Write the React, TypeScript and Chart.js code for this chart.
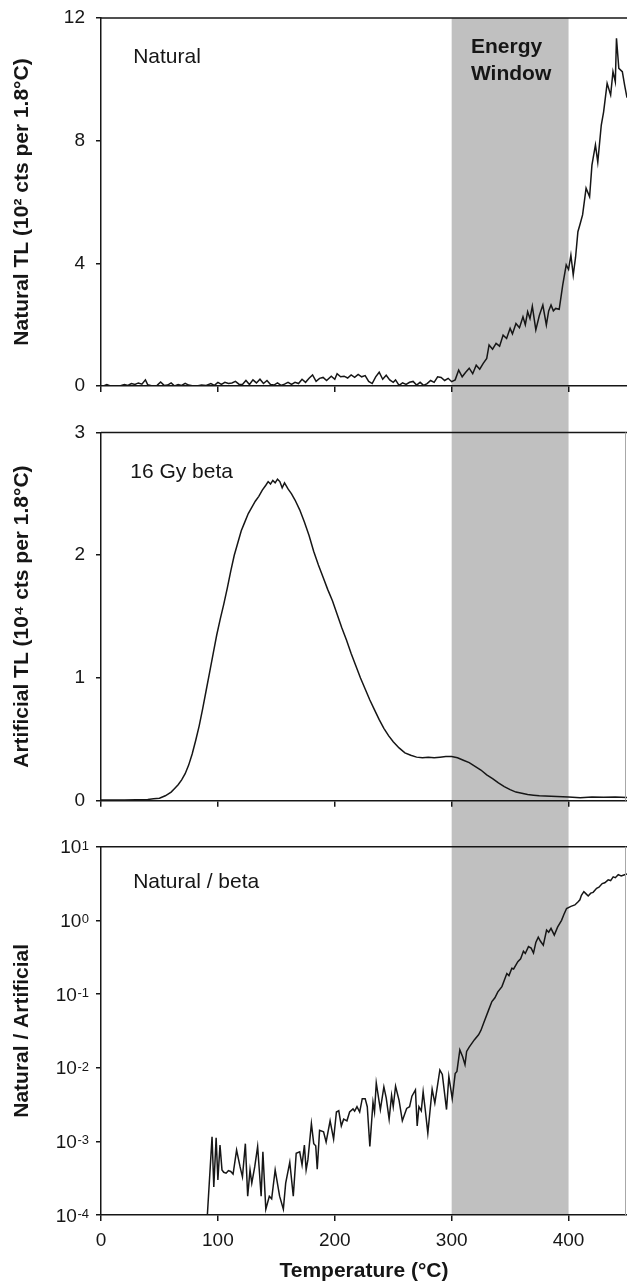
import React, { useEffect, useRef } from "react";
import { Chart, registerables } from "chart.js";

Chart.register(...registerables);

const FONT = '"Liberation Sans", Arial, Helvetica, sans-serif';
const INK = "#161616";
const BAND_COLOR = "#c0c0c0";

// ---- axes / labels ----
const X_MIN = 0;
const X_MAX = 450;
const X_STEP = 100;
const X_TITLE = "Temperature (°C)";
const ENERGY_WINDOW = [300, 400];
const WINDOW_LABEL = ["Energy", "Window"];

const Y_TITLES = [
  "Natural TL (10² cts per 1.8°C)",
  "Artificial TL (10⁴ cts per 1.8°C)",
  "Natural / Artificial",
];
const PANEL_LABELS = ["Natural", "16 Gy beta", "Natural / beta"];

const NAT_Y_MAX = 12;
const NAT_Y_STEP = 4;
const ART_Y_MAX = 3;
const ART_Y_STEP = 1;
const LOG_EXPONENTS = [-4, -3, -2, -1, 0, 1];
const LOG_BASE_LABEL = "10";
const LOG_EXP_LABELS = ["-4", "-3", "-2", "-1", "0", "1"];

// ---- Natural TL (10^2 counts per 1.8 °C) ----
const NAT_T = [
  0, 3, 5, 8, 12, 16, 20, 23, 26, 29,
  32, 35, 38, 40, 44, 48, 51, 54, 57, 60,
  63, 66, 69, 72, 75, 78, 82, 86, 90, 94,
  97, 100, 103, 106, 109, 112, 115, 118, 121, 124,
  127, 130, 133, 136, 139, 142, 145, 148, 151, 154,
  157, 160, 163, 166, 169, 172, 175, 178, 181, 184,
  187, 190, 193, 197, 200, 202, 205, 208, 211, 214,
  217, 220, 223, 226, 229, 232, 235, 238, 241, 244,
  247, 250, 252, 255, 258, 261, 264, 267, 270, 273,
  276, 279, 282, 285, 288, 291, 294, 297, 300, 303,
  306, 309, 312, 315, 318, 321, 324, 327, 330, 332,
  335, 338, 341, 344, 347, 350, 352, 355, 358, 361,
  363, 365, 367, 369, 372, 375, 378, 381, 383, 385,
  387, 389, 392, 395, 398, 400, 402, 404, 406, 408,
  410, 412, 415, 418, 420, 421, 423, 425, 428, 430,
  433, 436, 438, 440, 441, 443, 446, 448, 450,
];
const NAT_V = [
  0, 0.02, 0.05, 0, 0.01, 0, 0.05, 0.02, 0.08, 0.05,
  0.1, 0.06, 0.2, 0.04, 0, 0.02, 0.13, 0.02, 0.03, 0.1,
  0, 0.05, 0.02, 0.09, 0.03, 0.01, 0, 0.03, 0.02, 0.08,
  0.02, 0.12, 0.05, 0.12, 0.08, 0.1, 0.15, 0.06, 0.05, 0.18,
  0.05, 0.2, 0.1, 0.22, 0.08, 0.18, 0.05, 0.03, 0.1, 0.02,
  0.06, 0.12, 0.05, 0.12, 0.08, 0.22, 0.12, 0.25, 0.36, 0.15,
  0.25, 0.28, 0.18, 0.32, 0.22, 0.4, 0.3, 0.32, 0.26, 0.36,
  0.28, 0.38, 0.3, 0.34, 0.15, 0.08, 0.3, 0.45, 0.22, 0.35,
  0.2, 0.12, 0.2, 0.02, 0.1, 0.05, 0.12, 0.15, 0.03, 0.12,
  0.02, 0.08, 0.18, 0.12, 0.3, 0.28, 0.18, 0.25, 0.14, 0.2,
  0.52, 0.3, 0.45, 0.58, 0.4, 0.68, 0.55, 0.74, 0.9, 1.34,
  1.2, 1.39, 1.3, 1.66, 1.55, 1.88, 1.7, 2.04, 1.9, 2.26,
  2.0, 2.42, 2.2, 2.6, 1.83, 2.3, 2.64, 1.99, 2.45, 2.64,
  2.45, 2.53, 2.5, 3.29, 3.95, 3.8, 4.27, 3.62, 4.2, 5.03,
  5.3, 5.58, 6.45, 6.17, 7.2, 7.42, 7.86, 7.3, 8.51, 8.94,
  9.87, 9.49, 10.25, 9.92, 11.34, 10.36, 10.25, 9.8, 9.4,
];

// ---- Artificial TL, 16 Gy beta (10^4 counts per 1.8 °C) ----
const ART_T = [
  0, 10, 20, 30, 40, 45, 50, 55, 60,
  63, 66, 69, 72, 75, 78, 81, 84, 87, 90, 93, 96, 99, 102, 105, 108, 111, 114, 117, 120,
  123, 126, 129, 132, 135, 138, 141,
  143, 145, 147, 149, 151, 153, 155, 157,
  160, 163, 166,
  170, 174, 178, 182, 186, 190, 194, 198, 202, 206, 210, 214, 218, 222, 226, 230, 234, 238, 242, 246, 250,
  255, 260, 265, 270, 275, 280, 285, 290, 295, 300, 305, 310, 315, 320, 325, 330, 335, 340, 345, 350, 355, 360, 365, 370, 375, 380,
  390, 400, 410, 420, 430, 440, 450,
];
const ART_V = [
  0.005, 0.005, 0.006, 0.008, 0.01, 0.015, 0.02, 0.04, 0.07,
  0.1, 0.13, 0.17, 0.22, 0.29, 0.38, 0.49, 0.61, 0.75, 0.9, 1.05, 1.2, 1.35, 1.48, 1.6, 1.73, 1.87, 2.0, 2.1, 2.2,
  2.27, 2.34, 2.39, 2.44, 2.48, 2.53, 2.57,
  2.6, 2.58, 2.61, 2.59, 2.62, 2.6, 2.55, 2.59,
  2.54, 2.5, 2.45,
  2.37, 2.27, 2.16, 2.03, 1.92, 1.82, 1.72, 1.63, 1.52, 1.41, 1.31, 1.2, 1.1, 1.0, 0.91, 0.82, 0.74, 0.66, 0.59, 0.53, 0.48,
  0.43, 0.39, 0.37, 0.355, 0.35, 0.355, 0.35, 0.355, 0.36, 0.36, 0.35, 0.33, 0.31, 0.28, 0.25, 0.21, 0.18, 0.145, 0.115, 0.09, 0.07, 0.06, 0.05, 0.045, 0.04, 0.038,
  0.034, 0.03, 0.025, 0.03, 0.028, 0.03, 0.027,
];

// ---- Natural / Artificial ratio ----
const RATIO_T = [
  91, 95, 96.5, 98.5, 100, 101.8, 103.5, 105, 107, 109,
  111, 113, 116, 119, 121, 123.5, 125.5, 127.5, 129, 131.5,
  134, 137, 138.5, 141, 144, 146, 149, 152.8, 156, 158,
  161.5, 164.5, 167, 170, 172, 174, 175.5, 177, 180, 182,
  183.7, 185, 187, 190.4, 192.6, 196, 199, 201.4, 203.4, 205.6,
  207.6, 210.4, 212.7, 215.6, 217, 219, 221.3, 223.5, 226, 227.8,
  230, 232.7, 234, 235.5, 239, 242, 244, 246.5, 248.6, 250,
  252, 255, 257.8, 261.5, 264, 266, 269, 270.5, 272, 274,
  275.6, 277.5, 279.6, 283.3, 285.6, 289.9, 292, 295.6, 297.6, 300.5,
  303, 304.5, 307, 309.4, 311.4, 312.8, 315, 319.5, 323, 325,
  327.3, 331.5, 334.4, 337, 339.5, 343, 347.2, 349, 351.5, 353,
  356.6, 359, 361.4, 363, 365.7, 368, 370, 372, 374.1, 376,
  378.4, 381.2, 383, 385, 387.8, 390.6, 394, 396, 398.3, 402,
  405.4, 408, 409.7, 411, 413.1, 415, 416.8, 419, 421, 424,
  426, 428.8, 431, 433.9, 436, 438.2, 440, 442.5, 445, 448,
  450,
];
const RATIO_V = [
  1.0e-4, 1.15e-3, 2.4e-4, 1.12e-3, 3.0e-4, 8.9e-4, 4.1e-4, 3.8e-4, 3.7e-4, 4.0e-4,
  3.9e-4, 3.6e-4, 7.6e-4, 4.5e-4, 3.3e-4, 9.3e-4, 1.8e-4, 4.1e-4, 2.7e-4, 4.5e-4,
  8.5e-4, 1.8e-4, 7.2e-4, 1.2e-4, 1.8e-4, 1.66e-4, 4.1e-4, 1.8e-4, 1.2e-4, 2.7e-4,
  5.2e-4, 1.8e-4, 6.9e-4, 7.2e-4, 4.8e-4, 8.9e-4, 4.1e-4, 5.6e-4, 1.74e-3, 9.3e-4,
  8.7e-4, 4.2e-4, 1.41e-3, 1.35e-3, 9.8e-4, 1.9e-3, 1.07e-3, 2.5e-3, 2.6e-3, 1.62e-3,
  2.0e-3, 1.9e-3, 2.5e-3, 2.75e-3, 2.57e-3, 2.95e-3, 2.5e-3, 3.8e-3, 3.8e-3, 2.95e-3,
  8.5e-4, 3.4e-3, 2.5e-3, 6.2e-3, 2.7e-3, 5.5e-3, 3.9e-3, 2.0e-3, 4.2e-3, 2.95e-3,
  5.6e-3, 3.6e-3, 1.9e-3, 2.8e-3, 2.95e-3, 4.1e-3, 5.0e-3, 1.62e-3, 2.95e-3, 2.6e-3,
  4.7e-3, 2.6e-3, 1.29e-3, 5.1e-3, 3.3e-3, 9.3e-3, 8.1e-3, 2.7e-3, 7.6e-3, 3.8e-3,
  8.3e-3, 8.9e-3, 1.74e-2, 1.41e-2, 1.1e-2, 1.66e-2, 1.9e-2, 2.4e-2, 2.8e-2, 3.2e-2,
  4.0e-2, 6.0e-2, 7.9e-2, 8.9e-2, 0.107, 0.126, 0.19, 0.178, 0.224, 0.219,
  0.275, 0.3, 0.38, 0.355, 0.44, 0.42, 0.36, 0.5, 0.59, 0.52,
  0.46, 0.74, 0.69, 0.78, 0.63, 0.81, 1.0, 1.2, 1.45, 1.55,
  1.62, 1.78, 1.9, 2.19, 2.45, 2.29, 2.14, 2.34, 2.4, 2.72,
  2.82, 3.16, 3.24, 3.55, 3.47, 3.89, 3.8, 4.17, 4.0, 4.17,
  4.27,
];

// label anchor points (data coordinates: temperature, y-value)
const PANEL_LABEL_AT = [
  [27.5, 10.52],
  [25, 2.63],
  [27.5, 2.72],
];
const WINDOW_LABEL_AT = [
  [316.5, 10.87],
  [316.5, 9.98],
];

// ---- panel geometry ----
const W = 627;
const PANELS = [
  { top: 0, height: 400, padTop: 18, xHeight: 14 },
  { top: 400, height: 412, padTop: 32.5, xHeight: 11.3 },
  { top: 812, height: 472, padTop: 34.7, xHeight: 69 },
];
const Y_AXIS_WIDTH = 101;

function toPoints(xs: number[], ys: number[]) {
  const n = Math.min(xs.length, ys.length);
  const pts: { x: number; y: number }[] = [];
  for (let i = 0; i < n; i++) pts.push({ x: xs[i], y: ys[i] });
  return pts;
}

const tickFont = { family: FONT, size: 19 };
const titleFont = { family: FONT, size: 21, weight: "bold" as const };

function makeConfig(idx: number): any {
  const geo = PANELS[idx];
  const isBottom = idx === 2;
  const series =
    idx === 0 ? toPoints(NAT_T, NAT_V) : idx === 1 ? toPoints(ART_T, ART_V) : toPoints(RATIO_T, RATIO_V);

  const yScale: any =
    idx === 2
      ? {
          type: "logarithmic",
          min: Math.pow(10, LOG_EXPONENTS[0]),
          max: Math.pow(10, LOG_EXPONENTS[LOG_EXPONENTS.length - 1]),
          afterBuildTicks: (s: any) => {
            s.ticks = LOG_EXPONENTS.map((e) => ({ value: Math.pow(10, e) }));
          },
          ticks: { display: false, font: tickFont, padding: 8, autoSkip: false },
        }
      : {
          type: "linear",
          min: 0,
          max: idx === 0 ? NAT_Y_MAX : ART_Y_MAX,
          ticks: {
            stepSize: idx === 0 ? NAT_Y_STEP : ART_Y_STEP,
            font: tickFont,
            color: INK,
            padding: 11,
          },
        };
  Object.assign(yScale, {
    position: "left",
    grid: { drawOnChartArea: false, drawTicks: true, tickLength: 5, color: INK, lineWidth: 1.5 },
    border: { display: true, color: INK, width: 1.5 },
    title: {
      display: true,
      text: Y_TITLES[idx],
      font: titleFont,
      color: INK,
      padding: { top: 10, bottom: 0 },
    },
    afterFit: (s: any) => {
      s.width = Y_AXIS_WIDTH;
      s.paddingTop = 0;
      s.paddingBottom = 0;
    },
  });

  const xScale: any = {
    type: "linear",
    position: "bottom",
    min: X_MIN,
    max: X_MAX,
    ticks: {
      display: isBottom,
      stepSize: X_STEP,
      includeBounds: false,
      font: tickFont,
      color: INK,
      padding: 8,
      maxRotation: 0,
      autoSkip: false,
    },
    grid: { drawOnChartArea: false, drawTicks: true, tickLength: 6, color: INK, lineWidth: 1.5 },
    border: { display: true, color: INK, width: 1.5 },
    title: {
      display: isBottom,
      text: X_TITLE,
      font: titleFont,
      color: INK,
      padding: { top: 0, bottom: 0 },
    },
    afterFit: (s: any) => {
      s.height = geo.xHeight;
      s.paddingLeft = 0;
      s.paddingRight = 0;
    },
  };

  const decor = {
    id: "decor" + idx,
    beforeDraw(chart: any) {
      const { ctx, chartArea, scales } = chart;
      const x0 = scales.x.getPixelForValue(ENERGY_WINDOW[0]);
      const x1 = scales.x.getPixelForValue(ENERGY_WINDOW[1]);
      const y0 = idx === 0 ? chartArea.top : 0;
      const y1 = idx === 2 ? chartArea.bottom : chart.height;
      ctx.save();
      ctx.fillStyle = BAND_COLOR;
      ctx.fillRect(x0, y0, x1 - x0, y1 - y0);
      ctx.restore();
    },
    afterDraw(chart: any) {
      const { ctx, chartArea, scales } = chart;
      ctx.save();
      // top frame line
      ctx.strokeStyle = INK;
      ctx.lineWidth = 1.5;
      ctx.beginPath();
      ctx.moveTo(chartArea.left, chartArea.top);
      ctx.lineTo(chartArea.right, chartArea.top);
      ctx.stroke();
      if (idx > 0) {
        ctx.strokeStyle = "#a8a8a8";
        ctx.lineWidth = 1;
        ctx.beginPath();
        ctx.moveTo(chartArea.right - 1.5, chartArea.top);
        ctx.lineTo(chartArea.right - 1.5, chartArea.bottom);
        ctx.stroke();
      }
      ctx.fillStyle = INK;
      // log-axis tick labels: "10" with superscript exponent
      if (idx === 2) {
        const yS = scales.y;
        const rightEdge = chartArea.left - 12;
        LOG_EXPONENTS.forEach((e, i) => {
          const py = yS.getPixelForValue(Math.pow(10, e));
          ctx.font = `13px ${FONT}`;
          ctx.textAlign = "right";
          ctx.textBaseline = "alphabetic";
          const expW = ctx.measureText(LOG_EXP_LABELS[i]).width;
          ctx.fillText(LOG_EXP_LABELS[i], rightEdge, py + 3);
          ctx.font = `19px ${FONT}`;
          ctx.textBaseline = "middle";
          ctx.fillText(LOG_BASE_LABEL, rightEdge - expW - 0.5, py + 1.5);
        });
      }
      // panel label
      ctx.textBaseline = "alphabetic";
      ctx.textAlign = "left";
      ctx.font = `21px ${FONT}`;
      const [lx, ly] = PANEL_LABEL_AT[idx];
      ctx.fillText(PANEL_LABELS[idx], scales.x.getPixelForValue(lx), scales.y.getPixelForValue(ly));
      if (idx === 0) {
        ctx.font = `bold 21px ${FONT}`;
        WINDOW_LABEL.forEach((t, i) => {
          const [wx, wy] = WINDOW_LABEL_AT[i];
          ctx.fillText(t, scales.x.getPixelForValue(wx), scales.y.getPixelForValue(wy));
        });
      }
      ctx.restore();
    },
  };

  return {
    type: "line",
    data: {
      datasets: [
        {
          data: series,
          borderColor: INK,
          borderWidth: 1.5,
          pointRadius: 0,
          tension: 0,
          fill: false,
        },
      ],
    },
    options: {
      animation: false,
      responsive: false,
      devicePixelRatio: 1,
      layout: { padding: { top: geo.padTop, left: 0, right: 0, bottom: 0 } },
      plugins: { legend: { display: false }, tooltip: { enabled: false } },
      scales: { x: xScale, y: yScale },
    },
    plugins: [decor],
  };
}

export default function App() {
  const r0 = useRef<HTMLCanvasElement>(null);
  const r1 = useRef<HTMLCanvasElement>(null);
  const r2 = useRef<HTMLCanvasElement>(null);

  useEffect(() => {
    const refs = [r0, r1, r2];
    const charts = refs.map((r, i) => new Chart(r.current as HTMLCanvasElement, makeConfig(i)));
    return () => charts.forEach((c) => c.destroy());
  }, []);

  const refs = [r0, r1, r2];
  return (
    <div style={{ position: "absolute", left: 0, top: 0, width: W, height: 1284, background: "#fff" }}>
      {PANELS.map((p, i) => (
        <div key={i} style={{ position: "absolute", left: 0, top: p.top, width: W, height: p.height }}>
          <canvas ref={refs[i]} width={W} height={p.height} style={{ display: "block", width: W, height: p.height }} />
        </div>
      ))}
    </div>
  );
}
